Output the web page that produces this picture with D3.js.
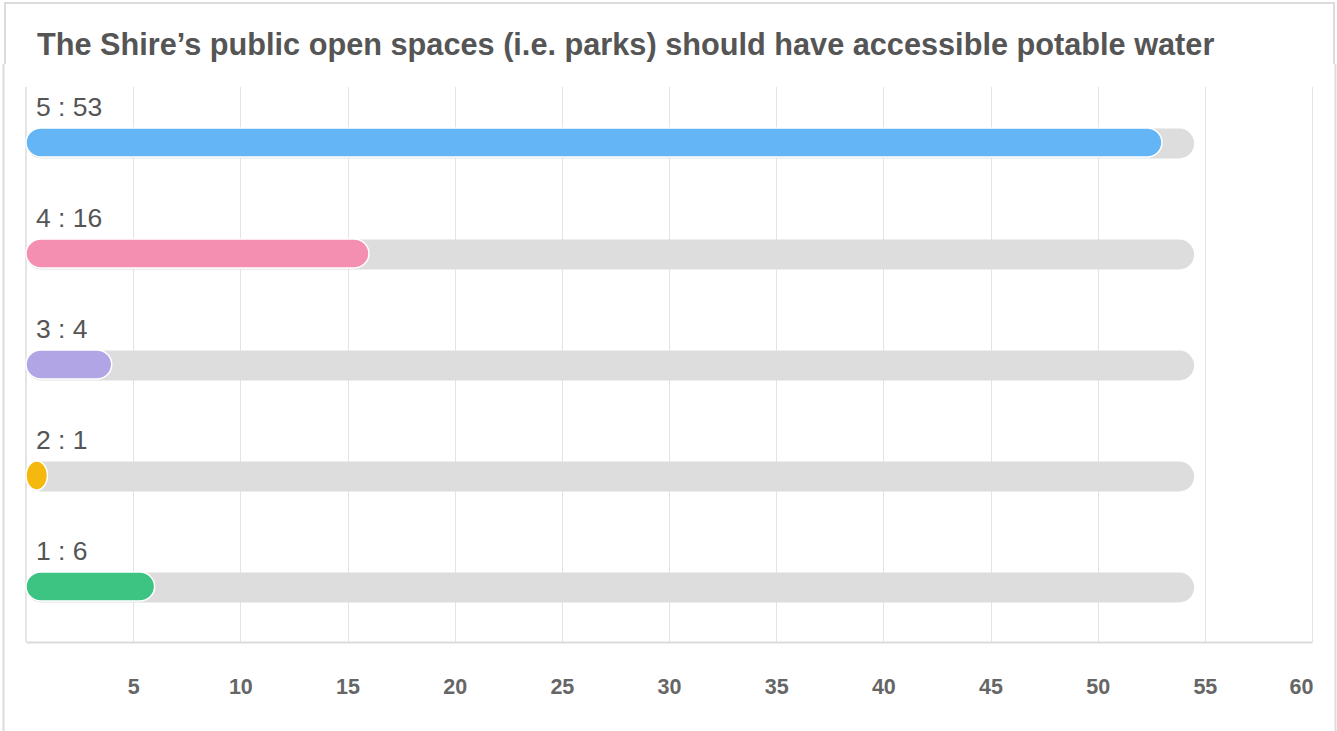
<!DOCTYPE html>
<html>
<head>
<meta charset="utf-8">
<script src="https://cdn.jsdelivr.net/npm/d3@7/dist/d3.min.js"></script>
<style>
  html, body { margin: 0; padding: 0; background: #fff; }
  svg { display: block; font-family: "Liberation Sans", Arial, Helvetica, sans-serif; }
</style>
</head>
<body>
<svg id="chart" width="1337" height="731"></svg>
<script>
// Survey responses: rating level and number of respondents
const titleText = "The Shire\u2019s public open spaces (i.e. parks) should have accessible potable water";
const ratings = ["5", "4", "3", "2", "1"];
const counts = [53, 16, 4, 1, 6];
const barColors = ["#64b5f6", "#f48fb1", "#b1a5e6", "#f4b80f", "#3ec482"];
const trackMax = 54.5;
const xTicks = [5, 10, 15, 20, 25, 30, 35, 40, 45, 50, 55, 60];

const svg = d3.select("#chart");
const W = 1337, H = 731;
const margin = { left: 26, right: 25, top: 87, bottom: 89 };

// frame
const frame = svg.append("g").attr("fill", "none").attr("stroke", "#dcdcdc").attr("stroke-width", 2);
frame.append("line").attr("x1", 4).attr("x2", 1335).attr("y1", 3).attr("y2", 3);
frame.append("line").attr("x1", 5).attr("x2", 5).attr("y1", 3).attr("y2", 64);
frame.append("line").attr("x1", 3.5).attr("x2", 3.5).attr("y1", 64).attr("y2", H);
frame.append("line").attr("x1", 1334).attr("x2", 1334).attr("y1", 3).attr("y2", 64);
frame.append("line").attr("x1", 1335.5).attr("x2", 1335.5).attr("y1", 64).attr("y2", H);

// title
svg.append("text")
  .attr("x", 37).attr("y", 54.5)
  .attr("font-size", 30.7).attr("font-weight", "bold").attr("fill", "#555")
  .text(titleText);

const x = d3.scaleLinear().domain([0, 60]).range([margin.left, W - margin.right]);
const y = d3.scaleBand().domain(ratings).range([margin.top, H - margin.bottom]);

// vertical gridlines
svg.append("g").selectAll("line").data(xTicks).join("line")
  .attr("x1", d => Math.round(x(d)) + 0.5).attr("x2", d => Math.round(x(d)) + 0.5)
  .attr("y1", margin.top).attr("y2", H - margin.bottom)
  .attr("stroke", "#e3e3e3").attr("stroke-width", 1);

// axes lines
svg.append("line")
  .attr("x1", x(0)).attr("x2", x(0))
  .attr("y1", margin.top).attr("y2", H - margin.bottom)
  .attr("stroke", "#dcdcdc").attr("stroke-width", 1.5);

// x axis
const xAxis = svg.append("g")
  .attr("transform", `translate(0,${H - margin.bottom})`)
  .call(d3.axisBottom(x).tickValues(xTicks).tickSize(0).tickPadding(36.5));
xAxis.select(".domain").attr("stroke", "#dcdcdc").attr("stroke-width", 2);
xAxis.selectAll("text")
  .attr("font-family", "Liberation Sans, Arial, sans-serif")
  .attr("font-size", 21.5).attr("font-weight", "bold").attr("fill", "#666");
// keep the last tick label inside the plot's right edge
const xMax = d3.max(xTicks);
xAxis.selectAll(".tick").filter(d => d === xMax).select("text")
  .attr("text-anchor", "end").attr("dx", 1);

const barH = 30;
const rows = svg.append("g").selectAll("g").data(ratings).join("g")
  .attr("transform", (d, i) => `translate(0,${y(d) + y.bandwidth() / 2 + 1 - barH / 2})`);

// background tracks
rows.append("rect")
  .attr("x", x(0)).attr("y", 0)
  .attr("width", x(trackMax) - x(0)).attr("height", barH)
  .attr("rx", barH / 2).attr("fill", "#dddddd");

// value bars
rows.append("rect")
  .attr("x", x(0)).attr("y", -0.5)
  .attr("width", (d, i) => x(counts[i]) - x(0)).attr("height", barH - 1)
  .attr("rx", (d, i) => Math.min(barH / 2, (x(counts[i]) - x(0)) / 2))
  .attr("ry", barH / 2 - 0.5)
  .attr("fill", (d, i) => barColors[i])
  .attr("stroke", "#fff").attr("stroke-width", 1.5);

// row labels
rows.append("text")
  .attr("x", 36).attr("y", -13)
  .attr("font-size", 26.5).attr("fill", "#555")
  .text((d, i) => `${d} : ${counts[i]}`);
</script>
</body>
</html>
